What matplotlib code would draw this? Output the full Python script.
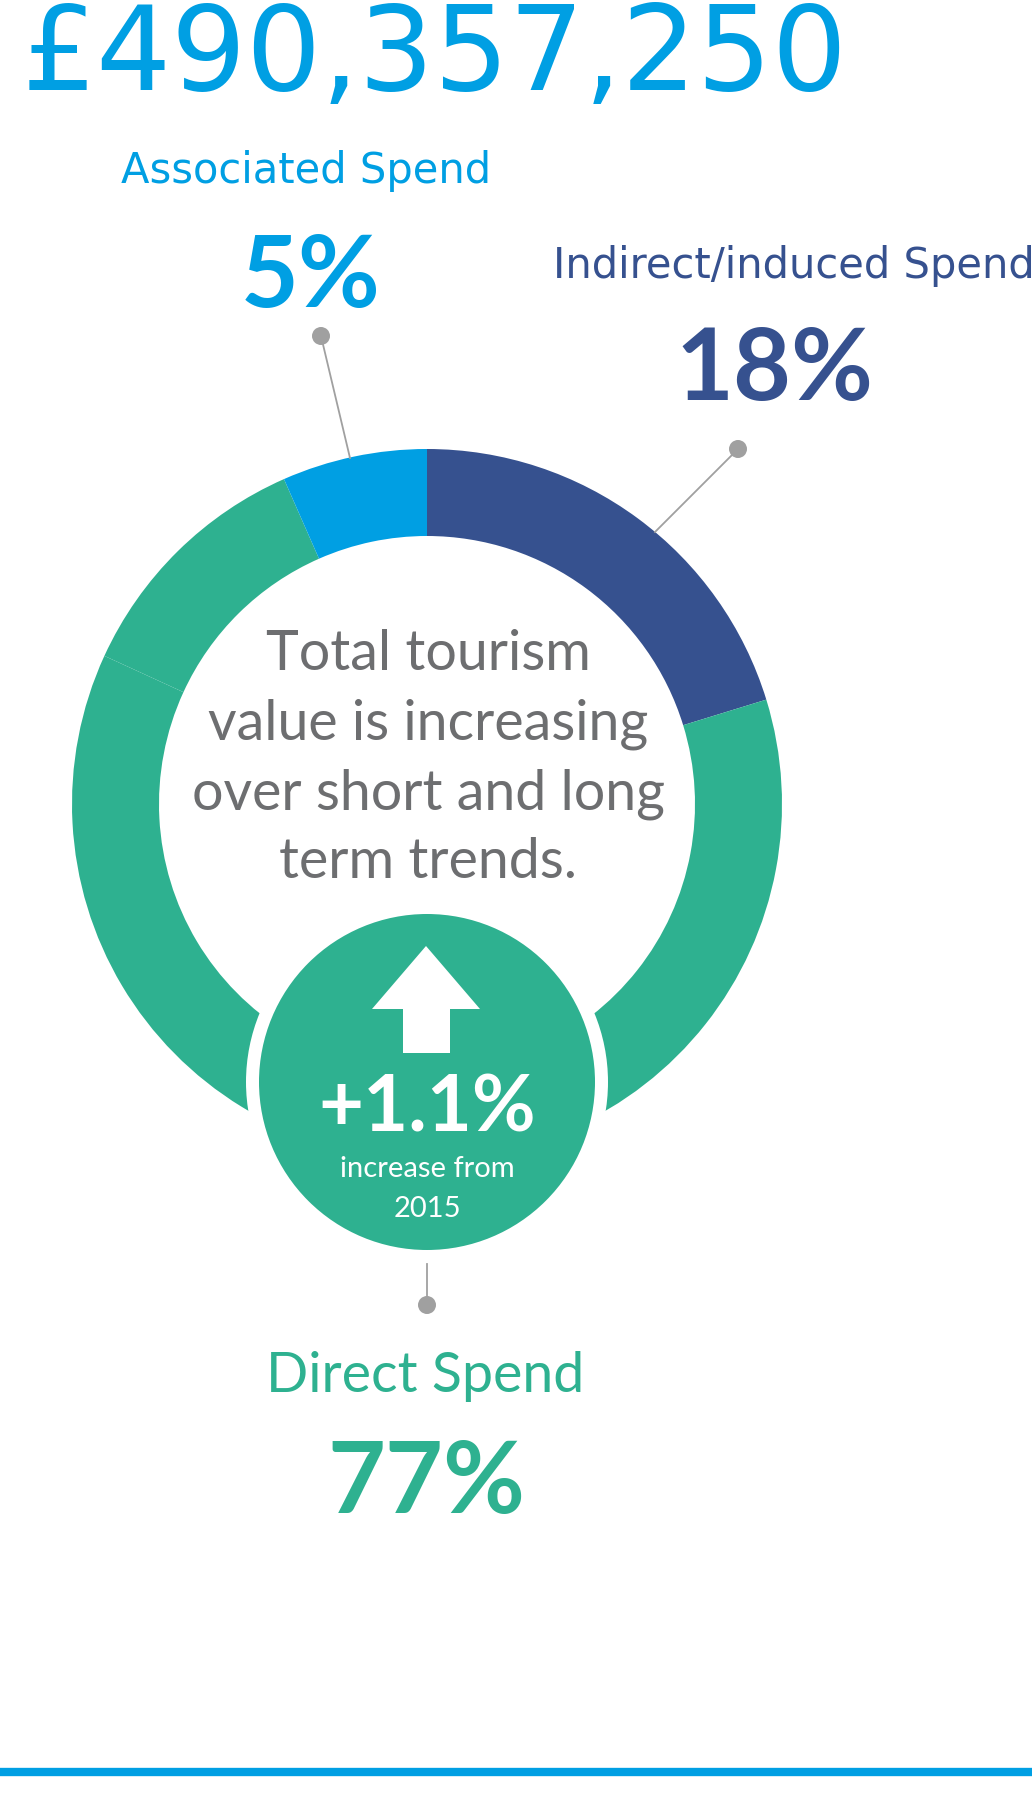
import matplotlib
matplotlib.use("Agg")
import matplotlib.pyplot as plt
from matplotlib.patches import Circle, Polygon

W, H = 1032, 1818

# ring segments as drawn (clockwise from 12 o'clock), in percent of the circle
ring_values = [20.25, 61.6, 11.55, 6.6]
ring_colors = ['#36518f', '#2eb190', '#2eb190', '#009fe3']

total_value = '£490,357,250'
labels = ['Associated Spend', 'Indirect/induced Spend', 'Direct Spend']
shares = ['5%', '18%', '77%']
change = '+1.1%'
change_note = ['increase from', '2015']
centre_text = ['Total tourism', 'value is increasing', 'over short and long', 'term trends.']

LBLUE = '#009fe3'
DBLUE = '#36518f'
GREEN = '#2eb190'
GREY = '#6d6e70'
LEAD = '#a0a0a0'

fig = plt.figure(figsize=(W / 100, H / 100), dpi=100)
ax = fig.add_axes([0, 0, 1, 1])

def Y(y):
    # pixel row (from top) -> data y
    return H - y

cx, cy = 427, Y(804)
ax.pie(ring_values, colors=ring_colors, startangle=90, counterclock=False,
       center=(cx, cy), radius=355,
       wedgeprops=dict(width=87, edgecolor='none', linewidth=0))

# badge circle with white border
bx, by = 427, Y(1082)
ax.add_patch(Circle((bx, by), 181, facecolor='white', edgecolor='none', zorder=3))
ax.add_patch(Circle((bx, by), 168, facecolor=GREEN, edgecolor='none', zorder=4))
arrow = [(426, Y(946)), (480, Y(1009)), (450, Y(1009)), (450, Y(1053)),
         (403, Y(1053)), (403, Y(1009)), (372, Y(1009))]
ax.add_patch(Polygon(arrow, closed=True, facecolor='white', edgecolor='none', zorder=5))

ax.text(bx, Y(1131), change, fontsize=56, fontweight='bold', color='white',
        family='Lato', ha='center', va='baseline', zorder=6)
for i, line in enumerate(change_note):
    ax.text(bx, Y(1177 + 40 * i), line, fontsize=21, color='white', family='Lato',
            ha='center', va='baseline', zorder=6)

for i, line in enumerate(centre_text):
    ax.text(428, Y(670 + 69.5 * i), line, fontsize=40, color=GREY, family='Lato',
            ha='center', va='baseline')

# title
ax.text(22, Y(90), total_value, fontsize=85, color=LBLUE, family='DejaVu Sans',
        ha='left', va='baseline')

# segment labels
ax.text(306, Y(183), labels[0], fontsize=30, color=LBLUE, family='DejaVu Sans',
        ha='center', va='baseline')
ax.text(311, Y(307), shares[0], fontsize=72, fontweight='bold', color=LBLUE,
        family='Lato', ha='center', va='baseline')
ax.text(553, Y(278), labels[1], fontsize=30, color=DBLUE, family='DejaVu Sans',
        ha='left', va='baseline')
ax.text(774, Y(400), shares[1], fontsize=72, fontweight='bold', color=DBLUE,
        family='Lato', ha='center', va='baseline')
ax.text(425, Y(1392), labels[2], fontsize=40, color=GREEN, family='Lato',
        ha='center', va='baseline')
ax.text(426, Y(1513), shares[2], fontsize=72, fontweight='bold', color=GREEN,
        family='Lato', ha='center', va='baseline')

# leader lines
for (x0, y0), (x1, y1) in [((321, 336), (350, 458)),
                           ((738, 449), (655, 532)),
                           ((427, 1305), (427, 1264))]:
    ax.plot([x0, x1], [Y(y0), Y(y1)], color=LEAD, lw=1.3, zorder=2)
    ax.add_patch(Circle((x0, Y(y0)), 9, facecolor=LEAD, edgecolor='none', zorder=2))

# bottom rule
ax.plot([0, W], [Y(1772), Y(1772)], color=LBLUE, lw=6, solid_capstyle='butt')

ax.set_xlim(0, W)
ax.set_ylim(0, H)
ax.set_aspect('equal')
ax.axis('off')

fig.savefig('out.png', dpi=100, facecolor='white')
